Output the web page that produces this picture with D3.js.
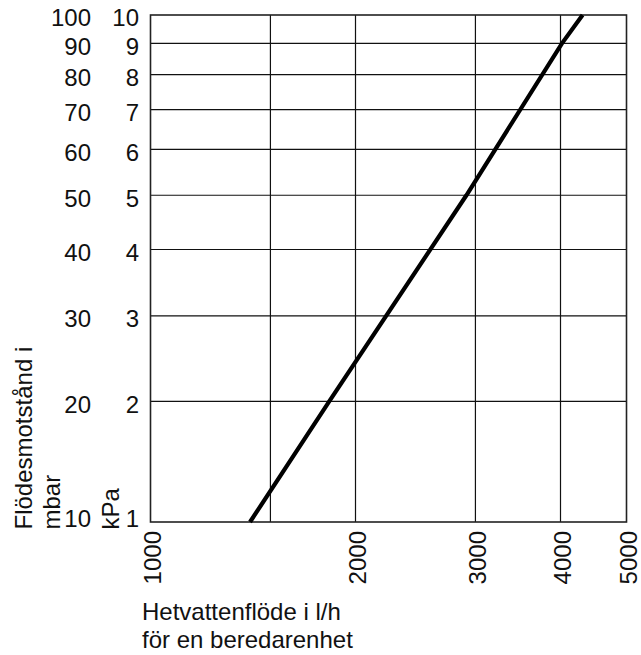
<!DOCTYPE html>
<html>
<head>
<meta charset="utf-8">
<script src="https://cdn.jsdelivr.net/npm/d3@7"></script>
<style>
  html, body { margin: 0; padding: 0; background: #fff; }
  svg { display: block; font-family: "Liberation Sans", Arial, Helvetica, sans-serif; }
</style>
</head>
<body>
<svg id="chart" width="641" height="655"></svg>
<script>
// Characteristic line: hot-water flow (l/h) against flow resistance (mbar)
const flow = [1400, 1830, 2910, 4020, 4310];
const dropMbar = [10, 20, 50, 90, 100];

// Axis ticks
const flowTicks = [1000, 2000, 3000, 4000, 5000];
const flowGrid = [1500, 2000, 3000, 4000];
const mbarTicks = [10, 20, 30, 40, 50, 60, 70, 80, 90, 100];
const kpaTicks = [1, 2, 3, 4, 5, 6, 7, 8, 9, 10];
const mbarGrid = [20, 30, 40, 50, 60, 70, 80, 90];

// Titles
const yTitleLines = ["Flödesmotstånd i", "mbar"];
const kpaTitle = "kPa";
const xTitleLines = ["Hetvattenflöde i l/h", "för en beredarenhet"];

const plot = { left: 150.5, top: 15, right: 626.5, bottom: 522 };
const fontSize = 24;

const svg = d3.select("#chart");

const x = d3.scaleLog().domain([1000, 5000]).range([plot.left, plot.right]);
// Pressure axis uses a shifted logarithmic spacing (log of value + 10)
const y = d3.scaleSymlog().constant(10).domain([10, 100]).range([plot.bottom, plot.top]);

// Grid lines
const grid = svg.append("g").attr("stroke", "#111").attr("stroke-width", 1.2);
grid.selectAll("line.v").data(flowGrid).join("line")
  .attr("class", "v")
  .attr("x1", d => x(d)).attr("x2", d => x(d))
  .attr("y1", plot.top).attr("y2", plot.bottom);
grid.selectAll("line.h").data(mbarGrid).join("line")
  .attr("class", "h")
  .attr("x1", plot.left).attr("x2", plot.right)
  .attr("y1", d => y(d)).attr("y2", d => y(d));

// Frame
svg.append("rect")
  .attr("x", plot.left).attr("y", plot.top)
  .attr("width", plot.right - plot.left).attr("height", plot.bottom - plot.top)
  .attr("fill", "none").attr("stroke", "#222").attr("stroke-width", 1.6);

// Characteristic line
const line = d3.line().x(d => x(d[0])).y(d => y(d[1]));
svg.append("path")
  .datum(d3.zip(flow, dropMbar))
  .attr("d", line)
  .attr("fill", "none")
  .attr("stroke", "#000")
  .attr("stroke-width", 4.2);

// Left tick labels: mbar column and kPa column
const labels = svg.append("g").attr("font-size", fontSize).attr("fill", "#111");
labels.selectAll("text.mbar").data(mbarTicks).join("text")
  .attr("class", "mbar")
  .attr("x", 91)
  .attr("y", d => y(d))
  .attr("dy", d => d === 10 ? "0.22em" : "0.47em")
  .attr("text-anchor", "end")
  .text(d => d);
labels.selectAll("text.kpa").data(kpaTicks).join("text")
  .attr("class", "kpa")
  .attr("x", 139)
  .attr("y", d => y(d * 10))
  .attr("dy", d => d === 1 ? "0.22em" : "0.47em")
  .attr("text-anchor", "end")
  .text(d => d);

// Bottom tick labels, rotated
labels.selectAll("text.flow").data(flowTicks).join("text")
  .attr("class", "flow")
  .attr("transform", d => `translate(${x(d)},531) rotate(-90)`)
  .attr("dy", "0.43em")
  .attr("text-anchor", "end")
  .text(d => d);

// Y titles
yTitleLines.forEach((t, i) => {
  labels.append("text")
    .attr("transform", `translate(${31.5 + i * 28.5},529.5) rotate(-90)`)
    .attr("text-anchor", "start")
    .text(t);
});
labels.append("text")
  .attr("transform", "translate(118.5,529.5) rotate(-90)")
  .attr("text-anchor", "start")
  .text(kpaTitle);

// X title
xTitleLines.forEach((t, i) => {
  labels.append("text")
    .attr("x", 142)
    .attr("y", 619.5 + i * 28)
    .text(t);
});
</script>
</body>
</html>
